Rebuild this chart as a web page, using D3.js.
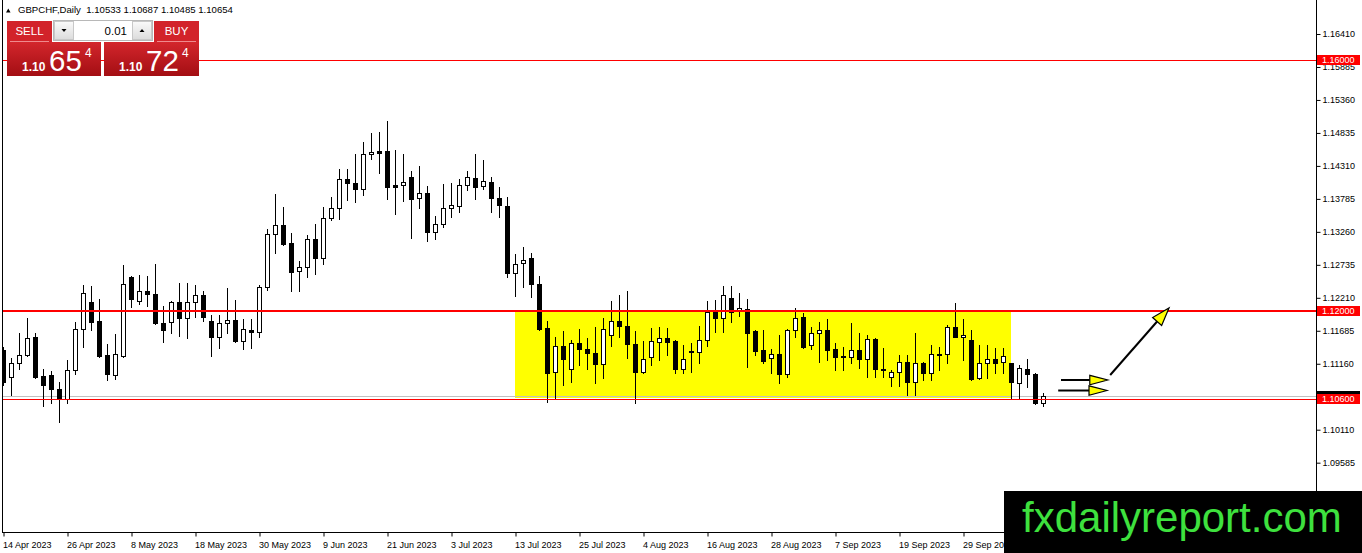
<!DOCTYPE html>
<html><head><meta charset="utf-8">
<script src="https://cdn.jsdelivr.net/npm/d3@7"></script>
<style>
body{margin:0;background:#fff;overflow:hidden}
svg{display:block}
text{font-family:"Liberation Sans",Arial,sans-serif}
</style>
</head><body>
<svg id="c" width="1362" height="553"></svg>
<script>
// ---------------- data ----------------
const symbol = "GBPCHF,Daily";
const open = [1.11379,1.10950,1.11172,1.11299,1.11586,1.10965,1.10981,1.10758,1.10599,1.11061,
1.11714,1.12143,1.11841,1.11299,1.10981,1.11283,1.12541,1.12159,1.12318,1.12270,
1.11809,1.11825,1.12143,1.11889,1.12143,1.12254,1.11841,1.11586,1.11809,1.11857,
1.11522,1.11697,1.11665,1.12382,1.13226,1.13369,1.13082,1.12637,1.12701,1.13146,
1.12844,1.13481,1.13640,1.14102,1.14038,1.13942,1.14499,1.14547,1.14547,1.14006,
1.14006,1.14134,1.13799,1.13878,1.13258,1.13385,1.13640,1.13672,1.14006,1.14118,
1.13990,1.14054,1.13799,1.13672,1.12605,1.12764,1.12844,1.12429,1.11730,1.11029,
1.11443,1.11077,1.11490,1.11395,1.11331,1.11156,1.11618,1.11841,1.11761,1.11474,
1.11029,1.11268,1.11506,1.11570,1.11522,1.11077,1.11363,1.11347,1.11538,1.11984,
1.11889,1.12207,1.12000,1.12032,1.11681,1.11379,1.11252,1.11315,1.10997,1.11697,
1.11905,1.11458,1.11649,1.11697,1.11395,1.11283,1.11268,1.11379,1.11236,1.11554,
1.11077,1.10950,1.11029,1.11188,1.10869,1.11172,1.11013,1.11299,1.11315,1.11745,
1.11586,1.11538,1.10934,1.11172,1.11236,1.11188,1.11172,1.10853,1.11077,1.10997,
1.10533];
const high = [1.11427,1.11252,1.11649,1.11889,1.11649,1.11077,1.11045,1.10869,1.11220,1.11825,
1.12413,1.12397,1.12191,1.11474,1.11633,1.12733,1.12557,1.12573,1.12557,1.12748,
1.12080,1.12159,1.12445,1.12445,1.12413,1.12318,1.11936,1.11936,1.12366,1.12175,
1.11873,1.11873,1.12413,1.13306,1.13862,1.13656,1.13242,1.12796,1.13210,1.13385,
1.13656,1.13815,1.14261,1.14261,1.14499,1.14690,1.14834,1.14850,1.15025,1.14563,
1.14499,1.14229,1.14309,1.13990,1.13512,1.14022,1.14038,1.14102,1.14229,1.14499,
1.14404,1.14134,1.13974,1.13815,1.12907,1.13018,1.12923,1.12557,1.11841,1.11586,
1.11681,1.11538,1.11714,1.11570,1.11745,1.11889,1.12159,1.12254,1.12318,1.11681,
1.11522,1.11730,1.11745,1.11730,1.11538,1.11458,1.11490,1.11761,1.12159,1.12175,
1.12397,1.12397,1.12286,1.12191,1.11697,1.11697,1.11395,1.11618,1.11714,1.12048,
1.11968,1.11745,1.11825,1.11873,1.11490,1.11427,1.11809,1.11649,1.11618,1.11570,
1.11411,1.11061,1.11299,1.11299,1.11649,1.11188,1.11458,1.11427,1.11777,1.12127,
1.11873,1.11697,1.11458,1.11458,1.11411,1.11411,1.11172,1.11140,1.11236,1.11013,
1.10687];
const low = [1.10821,1.10662,1.11077,1.11283,1.10934,1.10487,1.10535,1.10233,1.10535,1.10997,
1.11427,1.11697,1.11268,1.10901,1.10917,1.11268,1.12064,1.12111,1.12080,1.11793,
1.11506,1.11649,1.11602,1.11570,1.11905,1.11841,1.11283,1.11411,1.11649,1.11506,
1.11395,1.11411,1.11586,1.12334,1.12923,1.13050,1.12318,1.12318,1.12541,1.12589,
1.12748,1.13449,1.13465,1.13767,1.13735,1.13847,1.14420,1.14197,1.13783,1.13544,
1.13751,1.13162,1.13640,1.13114,1.13146,1.13337,1.13497,1.13576,1.13926,1.13783,
1.13942,1.13576,1.13497,1.12541,1.12239,1.12382,1.12223,1.11697,1.10551,1.10615,
1.10821,1.10869,1.11140,1.11077,1.10853,1.10934,1.11443,1.11586,1.11252,1.10535,
1.11013,1.11140,1.11220,1.11299,1.11013,1.11013,1.11029,1.11172,1.11443,1.11665,
1.11665,1.11825,1.11920,1.11109,1.11299,1.11172,1.11013,1.10853,1.10950,1.11586,
1.11411,1.11395,1.11188,1.11220,1.11061,1.11061,1.11172,1.11093,1.10950,1.10950,
1.10950,1.10806,1.10806,1.10662,1.10662,1.10901,1.10901,1.11061,1.11172,1.11586,
1.11220,1.10901,1.10917,1.10934,1.11013,1.11013,1.10615,1.10615,1.10790,1.10519,
1.10485];
const close = [1.10869,1.11172,1.11299,1.11570,1.10950,1.10821,1.10758,1.10599,1.11061,1.11714,
1.12286,1.11825,1.11283,1.10997,1.11315,1.12429,1.12191,1.12318,1.12270,1.11809,
1.11697,1.12143,1.11889,1.12143,1.12254,1.11905,1.11586,1.11809,1.11857,1.11522,
1.11714,1.11665,1.12382,1.13226,1.13369,1.13066,1.12621,1.12701,1.13146,1.12844,
1.13481,1.13640,1.14102,1.14038,1.13942,1.14499,1.14531,1.14515,1.13974,1.13974,
1.14054,1.13783,1.13878,1.13258,1.13385,1.13640,1.13687,1.14006,1.14134,1.13974,
1.14070,1.13799,1.13687,1.12605,1.12748,1.12812,1.12429,1.11714,1.11013,1.11443,
1.11236,1.11490,1.11395,1.11331,1.11156,1.11714,1.11841,1.11761,1.11474,1.11029,
1.11236,1.11522,1.11570,1.11506,1.11077,1.11236,1.11347,1.11538,1.11984,1.11889,
1.12254,1.11984,1.12048,1.11649,1.11363,1.11204,1.11315,1.10997,1.11697,1.11889,
1.11427,1.11649,1.11697,1.11379,1.11268,1.11268,1.11379,1.11236,1.11554,1.11077,
1.11061,1.11029,1.11188,1.10869,1.11172,1.11013,1.11315,1.11315,1.11745,1.11586,
1.11618,1.10917,1.11172,1.11236,1.11172,1.11283,1.10869,1.11093,1.10997,1.10535,
1.10654];
const dateLabels = ["14 Apr 2023","26 Apr 2023","8 May 2023","18 May 2023","30 May 2023",
"9 Jun 2023","21 Jun 2023","3 Jul 2023","13 Jul 2023","25 Jul 2023","4 Aug 2023",
"16 Aug 2023","28 Aug 2023","7 Sep 2023","19 Sep 2023","29 Sep 2023"];
const barsPerLabel = 8;
const priceTicks = [1.16410,1.15885,1.15360,1.14835,1.14310,1.13785,1.13260,1.12735,
1.12210,1.11685,1.11160,1.10110,1.09585];
const levelPrices = [1.16000, 1.12000, 1.10600];
const bidPrice = 1.10654;
const zoneBars = [64, 126];
const zonePrices = [1.12000, 1.10610];
const arrowFromBar = [132.25, 131.9, 138.4];
const arrowToBar = [138.1, 138.0, 145.75];
const arrowFromPrice = [1.10901, 1.10734, 1.10981];
const arrowToPrice = [1.10901, 1.10734, 1.12048];
const sellPrice = ["1.10", "65", "4"];
const buyPrice = ["1.10", "72", "4"];
const lotSize = "0.01";
const watermark = "fxdailyreport.com";

// ---------------- layout ----------------
const W = 1362, H = 553;
const plotL = 3, plotR = 1316, plotB = 532;
const svg = d3.select("#c");
const x = d3.scaleLinear().domain([0, 164.125]).range([plotL, plotR]);
const y = d3.scaleLinear().domain([1.084813, 1.169513]).range([plotB, 0]);
const FS = 9;

svg.append("rect").attr("width", W).attr("height", H).attr("fill", "#fff");
const defs = svg.append("defs");
defs.append("clipPath").attr("id", "plot").append("rect")
  .attr("x", plotL).attr("y", 0).attr("width", plotR - plotL).attr("height", plotB);
const grad = defs.append("linearGradient").attr("id", "red").attr("x1", 0).attr("y1", 0).attr("x2", 0).attr("y2", 1);
grad.append("stop").attr("offset", "0%").attr("stop-color", "#d3262c");
grad.append("stop").attr("offset", "100%").attr("stop-color", "#a30e13");
const gradB = defs.append("linearGradient").attr("id", "btn").attr("x1", 0).attr("y1", 0).attr("x2", 0).attr("y2", 1);
gradB.append("stop").attr("offset", "0%").attr("stop-color", "#fafafa");
gradB.append("stop").attr("offset", "100%").attr("stop-color", "#dcdcdc");

const plot = svg.append("g").attr("clip-path", "url(#plot)");

// yellow zone (background object)
plot.append("rect")
  .attr("x", Math.round(x(zoneBars[0])))
  .attr("width", Math.round(x(zoneBars[1])) - Math.round(x(zoneBars[0])))
  .attr("y", Math.round(y(zonePrices[0])))
  .attr("height", Math.round(y(zonePrices[1])) - Math.round(y(zonePrices[0])))
  .attr("fill", "#ffff00");

// bid line
plot.append("rect").attr("x", plotL).attr("width", plotR - plotL)
  .attr("y", Math.round(y(bidPrice))).attr("height", 1).attr("fill", "#c0c0c0");

// candles
const bars = d3.range(open.length).map(i => ({i, o: open[i], h: high[i], l: low[i], c: close[i]}));
const cg = plot.append("g");
bars.forEach(d => {
  const cx = Math.round(x(d.i));
  const yh = Math.round(y(d.h)), yl = Math.round(y(d.l));
  const yo = Math.round(y(d.o)), yc = Math.round(y(d.c));
  cg.append("rect").attr("x", cx).attr("y", yh).attr("width", 1).attr("height", yl - yh + 1).attr("fill", "#000");
  const top = Math.min(yo, yc), bot = Math.max(yo, yc);
  if (bot - top < 1) {
    cg.append("rect").attr("x", cx - 2).attr("y", top).attr("width", 5).attr("height", 1).attr("fill", "#000");
  } else if (d.c < d.o) {
    cg.append("rect").attr("x", cx - 2).attr("y", top).attr("width", 5).attr("height", bot - top + 1).attr("fill", "#000");
  } else {
    cg.append("rect").attr("x", cx - 1.5).attr("y", top + 0.5).attr("width", 4).attr("height", bot - top)
      .attr("fill", "#fff").attr("stroke", "#000").attr("stroke-width", 1);
  }
});

// horizontal levels
const levelW = [1, 2, 1];
levelPrices.forEach((p, k) => {
  const yy = Math.round(y(p));
  plot.append("rect").attr("x", plotL).attr("width", plotR - plotL)
    .attr("y", levelW[k] === 2 ? yy - 1 : yy).attr("height", levelW[k]).attr("fill", "#ff0000");
});

// arrows
const ag = plot.append("g");
arrowFromBar.forEach((b, k) => {
  const x1 = x(b), y1 = y(arrowFromPrice[k]);
  const x2 = x(arrowToBar[k]), y2 = y(arrowToPrice[k]);
  const dx = x2 - x1, dy = y2 - y1, len = Math.hypot(dx, dy);
  const ux = dx / len, uy = dy / len;
  const hl = 18, hw = k === 2 ? 6 : 4.7;
  const bx = x2 - ux * hl, by = y2 - uy * hl;
  ag.append("line").attr("x1", x1).attr("y1", y1).attr("x2", bx).attr("y2", by)
    .attr("stroke", "#000").attr("stroke-width", 2);
  const pts = [[x2, y2], [bx - uy * hw, by + ux * hw], [bx + uy * hw, by - ux * hw]];
  ag.append("path").attr("d", "M" + pts.map(p => p.join(",")).join("L") + "Z")
    .attr("fill", "#ffff00").attr("stroke", "#000").attr("stroke-width", 1.2).attr("stroke-linejoin", "miter");
});

// frame: left border
svg.append("rect").attr("x", 2).attr("y", 0).attr("width", 1).attr("height", plotB + 1).attr("fill", "#000");

// price axis
const yAxis = d3.axisRight(y).tickValues(priceTicks).tickFormat(d => d.toFixed(5))
  .tickSize(4).tickSizeOuter(0).tickPadding(2);
const ya = svg.append("g").attr("transform", `translate(${plotR + 0.5},0)`).call(yAxis);
ya.select(".domain").remove();
ya.selectAll("text").attr("font-size", FS).attr("font-family", "Liberation Sans, Arial, sans-serif").attr("fill", "#000");
svg.append("rect").attr("x", plotR).attr("y", 0).attr("width", 1).attr("height", H).attr("fill", "#000");

// time axis
const tickIdx = dateLabels.map((_, k) => k * barsPerLabel);
const xAxis = d3.axisBottom(x).tickValues(tickIdx).tickFormat((d, k) => dateLabels[k])
  .tickSize(4).tickSizeOuter(0).tickPadding(5);
const xa = svg.append("g").attr("transform", `translate(0.5,${plotB + 0.5})`).call(xAxis);
xa.select(".domain").remove();
xa.selectAll("text").attr("font-size", FS).attr("font-family", "Liberation Sans, Arial, sans-serif")
  .attr("text-anchor", "start").attr("x", -1).attr("fill", "#000");
svg.append("rect").attr("x", 2).attr("y", plotB).attr("width", plotR - 2).attr("height", 1).attr("fill", "#000");

// bid price label (black, mostly hidden) then level labels (red)
function priceBox(p, fill, label) {
  const yy = Math.round(y(p));
  svg.append("rect").attr("x", plotR + 1).attr("y", yy - 5).attr("width", 43).attr("height", 10).attr("fill", fill);
  if (label) svg.append("text").attr("x", plotR + 6).attr("y", yy).attr("dy", "0.34em")
    .attr("font-size", FS).attr("fill", "#fff").text(label);
}
priceBox(bidPrice, "#000", null);
levelPrices.forEach(p => priceBox(p, "#ff0000", p.toFixed(5)));

// header
const last = open.length - 1;
svg.append("path").attr("d", "M6,12.5L10.5,12.5L8.25,8.5Z").attr("fill", "#000");
svg.append("text").attr("x", 18).attr("y", 13).attr("font-size", FS + 0.6).attr("fill", "#000")
  .attr("xml:space", "preserve").style("white-space", "pre")
  .text(symbol + "  " + [open[last], high[last], low[last], close[last]].map(v => v.toFixed(5)).join(" "));

// one-click trading panel
const pnl = svg.append("g");
pnl.append("rect").attr("x", 7).attr("y", 21).attr("width", 45).attr("height", 21).attr("fill", "#d2232a");
pnl.append("rect").attr("x", 154).attr("y", 21).attr("width", 45).attr("height", 21).attr("fill", "#d2232a");
pnl.append("rect").attr("x", 7).attr("y", 42).attr("width", 94).attr("height", 34).attr("fill", "url(#red)");
pnl.append("rect").attr("x", 104).attr("y", 42).attr("width", 95).attr("height", 34).attr("fill", "url(#red)");
pnl.append("rect").attr("x", 10).attr("y", 41).attr("width", 39).attr("height", 1).attr("fill", "#ef8a8d");
pnl.append("rect").attr("x", 157).attr("y", 41).attr("width", 39).attr("height", 1).attr("fill", "#ef8a8d");
pnl.append("text").attr("x", 29.5).attr("y", 35).attr("text-anchor", "middle").attr("font-size", 11.5).attr("fill", "#fff").text("SELL");
pnl.append("text").attr("x", 176.5).attr("y", 35).attr("text-anchor", "middle").attr("font-size", 11.5).attr("fill", "#fff").text("BUY");
pnl.append("rect").attr("x", 53.5).attr("y", 20.5).attr("width", 99).attr("height", 20).attr("fill", "#fff").attr("stroke", "#b8b8b8");
pnl.append("rect").attr("x", 54.5).attr("y", 21.5).attr("width", 19).attr("height", 18).attr("fill", "url(#btn)").attr("stroke", "#c8c8c8");
pnl.append("rect").attr("x", 132.5).attr("y", 21.5).attr("width", 19).attr("height", 18).attr("fill", "url(#btn)").attr("stroke", "#c8c8c8");
pnl.append("path").attr("d", "M61.5,29L66.5,29L64,32Z").attr("fill", "#000");
pnl.append("path").attr("d", "M139.5,32L144.5,32L142,29Z").attr("fill", "#000");
pnl.append("text").attr("x", 127).attr("y", 34.5).attr("text-anchor", "end").attr("font-size", 11.5).attr("fill", "#000").text(lotSize);
function bigPrice(x0, parts) {
  pnl.append("text").attr("x", x0).attr("y", 70.5).attr("font-size", 12).attr("font-weight", "bold").attr("fill", "#fff").text(parts[0]);
  pnl.append("text").attr("x", x0 + 27).attr("y", 71).attr("font-size", 29.5).attr("fill", "#fff").text(parts[1]);
  pnl.append("text").attr("x", x0 + 63).attr("y", 57).attr("font-size", 12).attr("fill", "#fff").text(parts[2]);
}
bigPrice(22, sellPrice);
bigPrice(119, buyPrice);

// watermark
svg.append("rect").attr("x", 1004).attr("y", 491).attr("width", W - 1004).attr("height", H - 491).attr("fill", "#000");
svg.append("text").attr("x", 1022).attr("y", 532).attr("font-size", 42).attr("fill", "#3ee13e").text(watermark);
</script>
</body></html>
